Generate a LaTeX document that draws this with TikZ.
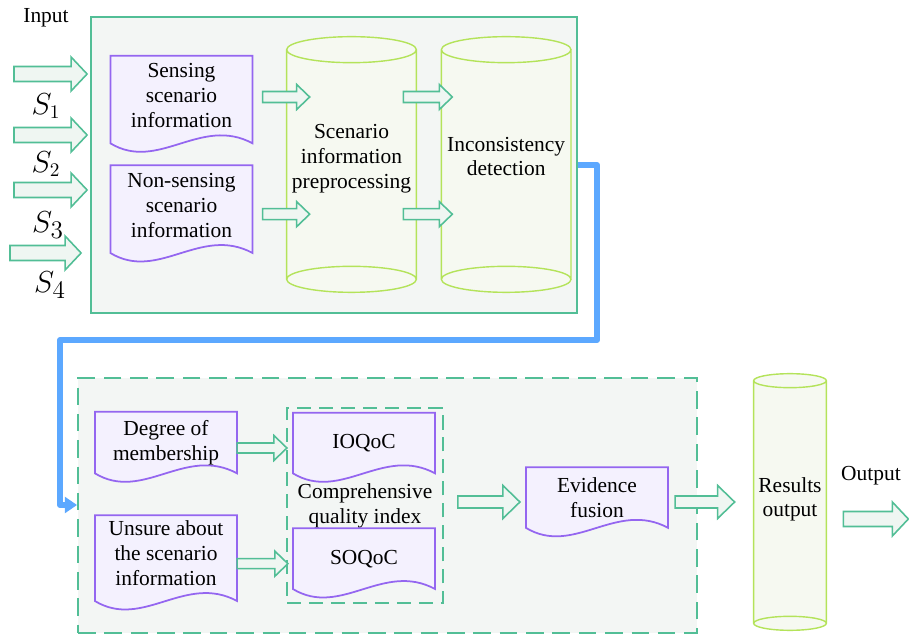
\documentclass[tikz,border=0pt]{standalone}
\usepackage{fontspec}
\setmainfont{Liberation Serif}
\usetikzlibrary{positioning,calc,arrows.meta}

\definecolor{boxgreen}{HTML}{52BE96}
\definecolor{boxfill}{HTML}{F3F6F4}
\definecolor{arrowfill}{HTML}{EFF6F2}
\definecolor{docpurple}{HTML}{9466F0}
\definecolor{docfill}{HTML}{F4F1FE}
\definecolor{cylgreen}{HTML}{B4E35A}
\definecolor{cylfill}{HTML}{F6F9F1}
\definecolor{flowblue}{HTML}{5CA8FF}

\pgfdeclarelayer{back}
\pgfdeclarelayer{shapes}
\pgfsetlayers{back,shapes,main}

\tikzset{
  container/.style={draw=boxgreen, line width=1.1pt, fill=boxfill},
  dashbox/.style={draw=boxgreen, line width=1.1pt, dash pattern=on 10pt off 5pt},
  doc/.style={minimum width=2.83cm, minimum height=1.74cm, align=center, inner sep=1pt},
  cyl/.style={align=center, inner sep=1pt},
  slabel/.style={font=\fontsize{16}{18}\selectfont},
  bigarrow/.style={draw=boxgreen, fill=arrowfill, line width=0.9pt},
  flow/.style={draw=flowblue, line width=3.4pt, line join=round, -{Triangle[length=7pt,width=9pt]}},
}

% document shape round a node
\newcommand\docoutline[1]{%
  \begin{pgfonlayer}{shapes}
    \draw[draw=docpurple, fill=docfill, line width=1pt]
      (#1.north west) -- (#1.north east) -- (#1.south east)
      .. controls +(-52,-28) and +(48,29) .. (#1.south west) -- cycle;
  \end{pgfonlayer}}

% cylinder round a node, #2 = half height of the ellipses
\newcommand\cyloutline[2]{%
  \begin{pgfonlayer}{shapes}
    \fill[cylfill] let \p1=($(#1.east)-(#1.west)$) in
      (#1.north west) -- (#1.south west)
      arc[start angle=180, end angle=360, x radius=0.5*\x1, y radius=#2]
      -- (#1.north east)
      arc[start angle=0, end angle=180, x radius=0.5*\x1, y radius=#2] -- cycle;
    \draw[cylgreen, line width=0.8pt] let \p1=($(#1.east)-(#1.west)$) in
      (#1.north west) -- (#1.south west) (#1.north east) -- (#1.south east)
      (#1.north) ellipse[x radius=0.5*\x1, y radius=#2]
      (#1.south) ellipse[x radius=0.5*\x1, y radius=#2];
  \end{pgfonlayer}}

% block arrow: from, to, half body, half head, head length
\newcommand\blockarrow[5]{%
  \draw[bigarrow] ($(#1)+(0,-#3)$) -- ($(#2)+(-#5,-#3)$) -- ($(#2)+(-#5,-#4)$) -- (#2)
    -- ($(#2)+(-#5,#4)$) -- ($(#2)+(-#5,#3)$) -- ($(#1)+(0,#3)$) -- cycle;}

\begin{document}
\begin{tikzpicture}[x=0.02cm, y=-0.02cm, font=\fontsize{12.2}{14.2}\selectfont]
\useasboundingbox (0,0) rectangle (909,634);

\begin{pgfonlayer}{back}
  \node[container, minimum width=9.72cm, minimum height=5.92cm] (inbox) at (334,165) {};
  \node[container, dash pattern=on 10pt off 5pt, minimum width=12.38cm, minimum height=5.1cm] (fusebox) at (387.5,505.5) {};
  \node[dashbox, dash pattern=on 8pt off 4.5pt, minimum width=3.12cm, minimum height=3.9cm, align=center] (quality) at (365,505.5) {Comprehensive\\quality index};
\end{pgfonlayer}

% input side
\node (input) at (46,18) {Input};
\node[slabel] (s1) at (46,106) {$S_1$};
\node[slabel] (s2) at (46,164) {$S_2$};
\node[slabel, font=\fontsize{19}{21}\selectfont] (s3) at (48,225) {$S_3$};
\node[slabel, font=\fontsize{19}{21}\selectfont] (s4) at (50,285) {$S_4$};

\node[doc] (sense) at (181.5,99.5) {Sensing\\scenario\\information\\[-10pt]};
\node[doc, below=0.44cm of sense] (nonsense) {Non-sensing\\scenario\\information\\[-10pt]};
\docoutline{sense}
\docoutline{nonsense}

\node[cyl, minimum width=2.58cm, minimum height=4.58cm] (prep) at (351.5,164.5) {Scenario\\information\\preprocessing\\[-5pt]};
\node[cyl, minimum width=2.58cm, minimum height=4.58cm, right=0.5cm of prep] (detect) {Inconsistency\\detection\\[-5pt]};
\cyloutline{prep}{0.26cm}
\cyloutline{detect}{0.26cm}

% fusion side
\node[doc, minimum height=1.22cm] (degree) at (166,442.5) {Degree of\\membership};
\node[doc, minimum height=1.7cm, below=0.84cm of degree] (unsure) {Unsure about\\the scenario\\information\\[-8pt]};
\node[doc, minimum height=1.2cm] (ioqoc) at (364,443) {IOQoC};
\node[doc, minimum height=1.2cm, below=1.1cm of ioqoc] (soqoc) {SOQoC};
\node[doc, minimum height=1.2cm] (fusion) at (597,497.5) {Evidence\\fusion};
\docoutline{degree}
\docoutline{unsure}
\docoutline{ioqoc}
\docoutline{soqoc}
\docoutline{fusion}

\node[cyl, minimum width=1.44cm, minimum height=4.84cm] (results) at (790,502) {Results\\output\\[-8.6pt]};
\cyloutline{results}{0.14cm}
\node (output) at (871,476) {Output};

% arrow ends
\coordinate (in1) at (14,74);
\coordinate (in2) at (14,135);
\coordinate (in3) at (14,190);
\coordinate (in4) at (10,253);
\coordinate (in1e) at ($(in1 -| inbox.west)+(-3,0)$);
\coordinate (in2e) at ($(in2 -| inbox.west)+(-3,0)$);
\coordinate (in3e) at ($(in3 -| inbox.west)+(-3,0)$);
\coordinate (in4e) at ($(in4 -| inbox.west)+(-9,0)$);
\coordinate (p1) at ($(sense.east)+(10,-2.5)$);
\coordinate (p1e) at ($(p1 -| prep.west)+(23,0)$);
\coordinate (p2) at ($(nonsense.east)+(10,5)$);
\coordinate (p2e) at ($(p2 -| prep.west)+(23,0)$);
\coordinate (d1) at ($(p1 -| prep.east)+(-13,0)$);
\coordinate (d1e) at ($(p1 -| detect.west)+(11,0)$);
\coordinate (d2) at ($(p2 -| prep.east)+(-13,0)$);
\coordinate (d2e) at ($(p2 -| detect.west)+(11,0)$);
\coordinate (m1) at ($(degree.east)+(0,5.5)$);
\coordinate (m1e) at ($(m1 -| ioqoc.west)+(-6,0)$);
\coordinate (m2) at ($(unsure.east)+(0,5.5)$);
\coordinate (m2e) at ($(m2 -| soqoc.west)+(-5,0)$);
\coordinate (q1) at ($(quality.east)+(14,-3.5)$);
\coordinate (q1e) at ($(q1 -| fusion.west)+(-6,0)$);
\coordinate (f1) at ($(fusion.east)+(7,4.5)$);
\coordinate (f1e) at ($(f1 -| results.west)+(-19,0)$);
\coordinate (o1) at ($(results.east)+(17,17)$);
\coordinate (o1e) at ($(o1)+(65,0)$);

\blockarrow{in1}{in1e}{7.5}{17}{16}
\blockarrow{in2}{in2e}{7.5}{17}{16}
\blockarrow{in3}{in3e}{7.5}{17}{16}
\blockarrow{in4}{in4e}{7.5}{17}{16}
\blockarrow{p1}{p1e}{5.5}{12.5}{13}
\blockarrow{p2}{p2e}{5.5}{12.5}{13}
\blockarrow{d1}{d1e}{5.5}{12.5}{13}
\blockarrow{d2}{d2e}{5.5}{12.5}{13}
\blockarrow{m1}{m1e}{5}{12.5}{13}
\blockarrow{m2}{m2e}{5}{12.5}{13}
\blockarrow{q1}{q1e}{6}{16.5}{17}
\blockarrow{f1}{f1e}{6}{16.5}{17}
\blockarrow{o1}{o1e}{7.5}{17}{16}

% link between the two stages
\coordinate (bend1) at (597,340);
\coordinate (bend2) at (60,505);
\draw[flow] (inbox.east) -| (bend1) -| (bend2) -- (bend2 -| fusebox.west);
\end{tikzpicture}
\end{document}
